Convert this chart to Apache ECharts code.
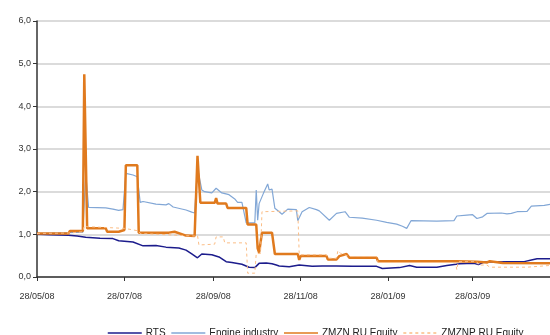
<!DOCTYPE html>
<html>
<head>
<meta charset="utf-8">
<script src="https://cdn.jsdelivr.net/npm/echarts@6/dist/echarts.min.js"></script>
<style>
  html, body { margin: 0; padding: 0; background: #fff; }
  #main { width: 550px; height: 335px; }
</style>
</head>
<body>
<div id="main"></div>
<script>
// tick labels on the date axis
const tickDates = ['2008-05-28', '2008-07-28', '2008-09-28', '2008-11-28', '2009-01-28', '2009-03-28'];

// RTS index, rebased to 1
const rts = [
  ['2008-05-28', 1.00], ['2008-06-06', 0.99], ['2008-06-19', 0.98], ['2008-06-25', 0.96],
  ['2008-07-01', 0.93], ['2008-07-11', 0.91], ['2008-07-20', 0.90], ['2008-07-24', 0.85],
  ['2008-08-03', 0.82], ['2008-08-10', 0.73], ['2008-08-19', 0.74], ['2008-08-26', 0.70],
  ['2008-09-04', 0.68], ['2008-09-09', 0.63], ['2008-09-13', 0.54], ['2008-09-17', 0.45],
  ['2008-09-20', 0.54], ['2008-09-27', 0.52], ['2008-10-02', 0.47], ['2008-10-07', 0.36],
  ['2008-10-11', 0.34], ['2008-10-18', 0.30], ['2008-10-23', 0.23], ['2008-10-27', 0.22],
  ['2008-10-30', 0.32], ['2008-11-04', 0.33], ['2008-11-08', 0.31], ['2008-11-11', 0.28],
  ['2008-11-13', 0.26], ['2008-11-20', 0.24], ['2008-11-27', 0.28], ['2008-12-06', 0.25],
  ['2008-12-13', 0.26], ['2008-12-23', 0.26], ['2009-01-03', 0.25], ['2009-01-20', 0.25],
  ['2009-01-24', 0.20], ['2009-02-05', 0.22], ['2009-02-12', 0.27], ['2009-02-17', 0.23],
  ['2009-03-03', 0.23], ['2009-03-10', 0.27], ['2009-03-19', 0.31], ['2009-03-29', 0.32],
  ['2009-04-01', 0.29], ['2009-04-05', 0.35], ['2009-04-23', 0.36], ['2009-05-03', 0.36],
  ['2009-05-08', 0.40], ['2009-05-12', 0.43], ['2009-05-21', 0.43]
];

// engine industry index
const engine = [
  ['2008-05-28', 1.02], ['2008-06-19', 1.04], ['2008-06-29', 1.05], ['2008-07-01', 2.43],
  ['2008-07-03', 1.63], ['2008-07-15', 1.62], ['2008-07-20', 1.59], ['2008-07-24', 1.56],
  ['2008-07-27', 1.58], ['2008-07-29', 2.43], ['2008-08-03', 2.39], ['2008-08-06', 2.35],
  ['2008-08-08', 1.75], ['2008-08-10', 1.77], ['2008-08-19', 1.71], ['2008-08-26', 1.69],
  ['2008-08-28', 1.72], ['2008-08-31', 1.64], ['2008-09-09', 1.57], ['2008-09-13', 1.52],
  ['2008-09-15', 1.50], ['2008-09-17', 2.55], ['2008-09-20', 2.04], ['2008-09-22', 2.00],
  ['2008-09-27', 1.97], ['2008-09-30', 2.08], ['2008-10-04', 1.97], ['2008-10-09', 1.93],
  ['2008-10-13', 1.83], ['2008-10-15', 1.75], ['2008-10-18', 1.75], ['2008-10-21', 1.27],
  ['2008-10-27', 1.27], ['2008-10-28', 2.04], ['2008-10-29', 1.33], ['2008-10-30', 1.72],
  ['2008-11-02', 1.96], ['2008-11-05', 2.18], ['2008-11-06', 2.04], ['2008-11-08', 2.06],
  ['2008-11-10', 1.61], ['2008-11-13', 1.53], ['2008-11-15', 1.47], ['2008-11-19', 1.59],
  ['2008-11-25', 1.58], ['2008-11-26', 1.32], ['2008-11-29', 1.53], ['2008-12-04', 1.63],
  ['2008-12-09', 1.58], ['2008-12-11', 1.55], ['2008-12-18', 1.33], ['2008-12-23', 1.49],
  ['2008-12-29', 1.53], ['2009-01-01', 1.40], ['2009-01-10', 1.38], ['2009-01-20', 1.33],
  ['2009-01-27', 1.28], ['2009-02-03', 1.24], ['2009-02-07', 1.19], ['2009-02-10', 1.14],
  ['2009-02-13', 1.32], ['2009-03-03', 1.31], ['2009-03-15', 1.32], ['2009-03-17', 1.43],
  ['2009-03-24', 1.45], ['2009-03-28', 1.46], ['2009-03-31', 1.37], ['2009-04-04', 1.41],
  ['2009-04-07', 1.49], ['2009-04-17', 1.50], ['2009-04-21', 1.48], ['2009-04-24', 1.49],
  ['2009-04-28', 1.53], ['2009-05-05', 1.54], ['2009-05-08', 1.66], ['2009-05-17', 1.68],
  ['2009-05-21', 1.70]
];

// ZMZN ordinary shares
const zmzn = [
  ['2008-05-28', 1.02], ['2008-06-19', 1.02], ['2008-06-20', 1.08], ['2008-06-29', 1.08],
  ['2008-06-30', 4.75], ['2008-07-01', 4.75], ['2008-07-02', 1.14], ['2008-07-15', 1.14],
  ['2008-07-16', 1.06], ['2008-07-24', 1.06], ['2008-07-25', 1.10], ['2008-07-28', 1.10],
  ['2008-07-29', 2.62], ['2008-08-06', 2.62], ['2008-08-07', 1.04], ['2008-08-28', 1.04],
  ['2008-08-29', 1.06], ['2008-09-01', 1.06], ['2008-09-02', 1.03], ['2008-09-09', 0.97],
  ['2008-09-15', 0.96], ['2008-09-17', 2.84], ['2008-09-19', 1.74], ['2008-09-29', 1.74],
  ['2008-09-30', 1.85], ['2008-10-01', 1.72], ['2008-10-07', 1.72], ['2008-10-08', 1.62],
  ['2008-10-21', 1.62], ['2008-10-22', 1.23], ['2008-10-28', 1.23], ['2008-10-29', 0.67],
  ['2008-10-30', 0.57], ['2008-11-01', 1.04], ['2008-11-08', 1.04], ['2008-11-10', 0.54],
  ['2008-11-26', 0.54], ['2008-11-27', 0.40], ['2008-11-28', 0.49], ['2008-12-16', 0.49],
  ['2008-12-17', 0.41], ['2008-12-23', 0.41], ['2008-12-25', 0.49], ['2008-12-30', 0.54],
  ['2009-01-01', 0.45], ['2009-01-20', 0.45], ['2009-01-21', 0.37], ['2009-03-17', 0.37],
  ['2009-03-31', 0.36], ['2009-04-01', 0.34], ['2009-04-07', 0.34], ['2009-04-09', 0.37],
  ['2009-04-18', 0.33], ['2009-05-21', 0.32]
];

// ZMZNP preferred shares
const zmznp = [
  ['2008-05-28', 1.02], ['2008-06-19', 1.03], ['2008-06-20', 1.06], ['2008-06-29', 1.06],
  ['2008-06-30', 1.20], ['2008-07-02', 1.18], ['2008-07-15', 1.16], ['2008-07-16', 1.12],
  ['2008-07-28', 1.14], ['2008-08-07', 1.08], ['2008-08-08', 1.02], ['2008-09-15', 0.96],
  ['2008-09-17', 0.98], ['2008-09-18', 0.75], ['2008-09-29', 0.77], ['2008-09-30', 0.94],
  ['2008-10-05', 0.94], ['2008-10-06', 0.80], ['2008-10-21', 0.80], ['2008-10-22', 0.09],
  ['2008-10-27', 0.09], ['2008-10-28', 0.55], ['2008-10-31', 0.55], ['2008-11-01', 1.53],
  ['2008-11-26', 1.55], ['2008-11-27', 0.52], ['2008-12-16', 0.52], ['2008-12-17', 0.44],
  ['2008-12-23', 0.44], ['2008-12-24', 0.62], ['2008-12-26', 0.55], ['2009-01-01', 0.48],
  ['2009-01-20', 0.48], ['2009-01-21', 0.34], ['2009-03-16', 0.34], ['2009-03-17', 0.17],
  ['2009-03-18', 0.36], ['2009-03-31', 0.36], ['2009-04-01', 0.28], ['2009-04-07', 0.28],
  ['2009-04-09', 0.23], ['2009-05-05', 0.23], ['2009-05-06', 0.27], ['2009-05-21', 0.27]
];

const ms = d => +new Date(d + 'T00:00:00Z');
const tickValues = tickDates.map(ms);

function fmtDate(v) {
  const d = new Date(v);
  const p = n => (n < 10 ? '0' : '') + n;
  return p(d.getUTCDate()) + '/' + p(d.getUTCMonth() + 1) + '/' + p(d.getUTCFullYear() % 100);
}

const toTime = arr => arr.map(r => [ms(r[0]), r[1]]);

const myChart = echarts.init(document.getElementById('main'));
const option = {
  animation: false,
  textStyle: { fontFamily: 'Liberation Sans' },
  grid: { left: 37, right: 0, top: 21, bottom: 58 },
  legend: {
    left: 102,
    top: 323,
    itemWidth: 34,
    itemHeight: 10,
    itemGap: 5,
    // hide the centre marker, keep only the line
    itemStyle: { color: 'rgba(0,0,0,0)', borderColor: 'rgba(0,0,0,0)', borderWidth: 0 },
    lineStyle: { width: 1.5 },
    textStyle: { fontSize: 10, color: '#222', fontFamily: 'Liberation Sans', padding: [0, 0, 0, -1] },
    data: ['RTS', 'Engine industry', 'ZMZN RU Equity', 'ZMZNP RU Equity']
  },
  xAxis: {
    type: 'value',
    min: ms('2008-05-28'),
    max: ms('2009-05-21'),
    axisLine: { lineStyle: { color: '#333', width: 1.5 } },
    axisTick: { show: true, length: 4, customValues: tickValues, lineStyle: { color: '#333' } },
    axisLabel: {
      customValues: tickValues,
      formatter: fmtDate,
      margin: 15,
      fontSize: 9,
      color: '#333'
    },
    splitLine: { show: false }
  },
  yAxis: {
    type: 'value',
    min: 0,
    max: 6,
    interval: 1,
    axisLine: { show: true, lineStyle: { color: '#333', width: 1.5 } },
    axisTick: { show: true, length: 4, lineStyle: { color: '#333' } },
    axisLabel: {
      formatter: v => v.toFixed(1).replace('.', ','),
      fontSize: 9,
      color: '#333',
      margin: 6
    },
    splitLine: { lineStyle: { color: '#cfcfcf', width: 1.5 } }
  },
  series: [
    {
      name: 'RTS', type: 'line', symbol: 'none', data: toTime(rts),
      lineStyle: { color: '#1c1c8c', width: 1.5 }, itemStyle: { color: '#1c1c8c' }
    },
    {
      name: 'Engine industry', type: 'line', symbol: 'none', data: toTime(engine),
      lineStyle: { color: '#82a7d6', width: 1.2 }, itemStyle: { color: '#82a7d6' }
    },
    {
      name: 'ZMZN RU Equity', type: 'line', symbol: 'none', data: toTime(zmzn),
      lineStyle: { color: '#e07a1e', width: 2.5 }, itemStyle: { color: '#e07a1e' }
    },
    {
      name: 'ZMZNP RU Equity', type: 'line', symbol: 'none', data: toTime(zmznp),
      lineStyle: { color: '#fbbd85', width: 1, type: [3, 3] }, itemStyle: { color: '#fbbd85' }
    }
  ]
};
myChart.setOption(option);
</script>
</body>
</html>
